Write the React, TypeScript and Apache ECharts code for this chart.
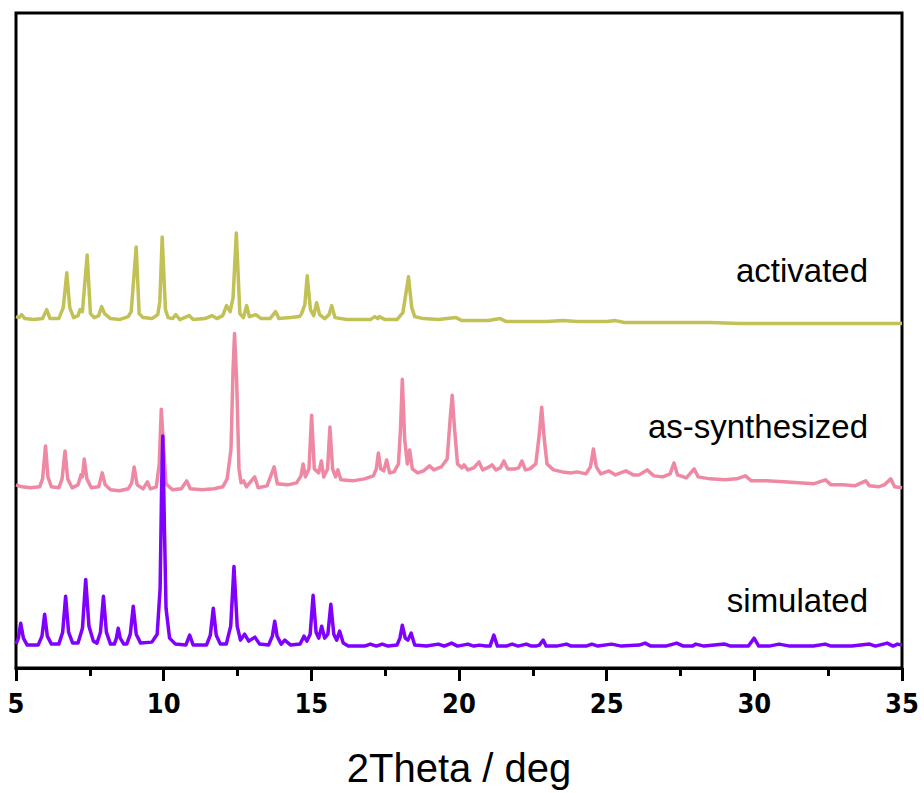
import React, { useEffect, useRef } from "react";
import * as echarts from "echarts";

// Stacked XRD patterns (intensity in arbitrary units, already offset)
const xTicks = [5, 10, 15, 20, 25, 30, 35];

const seriesNames = ["activated", "as-synthesized", "simulated"];
const seriesColors = ["#c2c156", "#ee88a3", "#8000ff"];

const activated: number[][] = [
  [5.0, 353], [5.1, 352], [5.19, 355], [5.3, 351], [5.6, 350], [5.9, 351], [6.04, 360], [6.15, 351],
  [6.45, 351], [6.6, 362], [6.72, 397], [6.82, 362], [6.95, 352], [7.1, 354], [7.17, 360], [7.25, 358],
  [7.41, 415], [7.52, 356], [7.65, 352], [7.8, 354], [7.9, 363], [8.0, 356], [8.2, 351], [8.5, 350],
  [8.8, 353], [8.9, 358], [9.07, 423], [9.17, 356], [9.3, 352], [9.6, 351], [9.8, 355], [9.87, 368],
  [9.95, 433], [10.06, 360], [10.15, 352], [10.3, 351], [10.41, 355], [10.55, 350], [10.86, 354],
  [11.0, 350], [11.4, 351], [11.64, 354], [11.8, 351], [12.0, 354], [12.13, 364], [12.25, 358],
  [12.35, 372], [12.46, 437], [12.58, 356], [12.7, 352], [12.81, 364], [12.9, 353], [13.12, 355],
  [13.3, 351], [13.6, 351], [13.79, 358], [13.9, 351], [14.3, 352], [14.6, 353], [14.67, 356],
  [14.78, 365], [14.86, 394], [14.97, 360], [15.08, 354], [15.18, 367], [15.28, 355], [15.45, 351],
  [15.6, 355], [15.69, 364], [15.8, 352], [16.2, 350], [16.6, 350], [17.0, 350], [17.15, 353],
  [17.25, 351], [17.3, 353], [17.5, 350], [17.9, 350], [18.1, 357], [18.18, 372], [18.29, 393],
  [18.4, 362], [18.5, 353], [18.8, 351], [19.3, 350], [19.9, 352], [20.1, 349], [20.6, 349],
  [21.0, 349], [21.4, 351], [21.6, 348], [22.3, 348], [23.0, 348], [23.5, 349], [24.0, 348],
  [25.0, 348], [25.3, 349], [25.6, 347], [26.5, 347], [27.5, 347], [28.5, 347], [29.5, 346],
  [30.5, 346], [31.5, 346], [32.5, 346], [33.5, 346], [34.5, 346], [35, 346],
];

const asSynthesized: number[][] = [
  [5.0, 184], [5.2, 182], [5.5, 181], [5.8, 182], [5.9, 190], [6.0, 223], [6.08, 192], [6.2, 182],
  [6.45, 181], [6.56, 190], [6.66, 218], [6.75, 190], [6.9, 181], [7.1, 184], [7.2, 194], [7.25, 192],
  [7.31, 210], [7.4, 190], [7.55, 181], [7.8, 182], [7.92, 196], [8.02, 184], [8.2, 179], [8.5, 178],
  [8.8, 180], [8.92, 186], [9.0, 202], [9.1, 184], [9.3, 180], [9.45, 187], [9.55, 180], [9.75, 182],
  [9.85, 205], [9.92, 260], [10.0, 220], [10.08, 185], [10.3, 179], [10.6, 180], [10.78, 188],
  [10.9, 180], [11.3, 179], [11.7, 180], [12.0, 182], [12.15, 190], [12.28, 220], [12.35, 300],
  [12.4, 336], [12.47, 290], [12.55, 200], [12.62, 186], [12.71, 188], [12.8, 182], [13.08, 192],
  [13.2, 181], [13.5, 183], [13.74, 202], [13.85, 185], [14.2, 184], [14.5, 186], [14.65, 193],
  [14.72, 205], [14.8, 192], [14.92, 200], [15.01, 254], [15.1, 200], [15.25, 196], [15.34, 208],
  [15.42, 192], [15.55, 200], [15.63, 242], [15.72, 200], [15.82, 192], [15.9, 199], [16.0, 189],
  [16.4, 188], [16.8, 190], [17.1, 193], [17.2, 200], [17.27, 216], [17.35, 200], [17.45, 198],
  [17.55, 209], [17.65, 196], [17.8, 197], [17.95, 205], [18.02, 240], [18.08, 290], [18.16, 230],
  [18.25, 205], [18.33, 219], [18.42, 200], [18.6, 196], [18.8, 198], [19.0, 203], [19.15, 199],
  [19.4, 202], [19.6, 210], [19.7, 250], [19.77, 274], [19.85, 240], [19.95, 205], [20.1, 201],
  [20.17, 204], [20.3, 199], [20.5, 201], [20.68, 207], [20.8, 199], [20.95, 201], [21.12, 204],
  [21.25, 199], [21.4, 201], [21.52, 208], [21.65, 200], [21.9, 200], [22.02, 201], [22.13, 208],
  [22.25, 199], [22.4, 200], [22.6, 205], [22.72, 235], [22.8, 262], [22.88, 232], [22.98, 205],
  [23.2, 199], [23.5, 197], [23.8, 196], [24.0, 197], [24.3, 195], [24.45, 202], [24.55, 220],
  [24.65, 202], [24.8, 195], [25.08, 198], [25.3, 194], [25.65, 198], [25.9, 194], [26.1, 194],
  [26.37, 199], [26.6, 193], [26.9, 192], [27.15, 195], [27.28, 206], [27.4, 194], [27.7, 191],
  [27.96, 200], [28.1, 192], [28.5, 190], [29.0, 189], [29.4, 190], [29.7, 193], [29.9, 188],
  [30.4, 188], [31.0, 187], [31.5, 186], [32.0, 185], [32.41, 189], [32.6, 184], [33.0, 184],
  [33.4, 183], [33.77, 188], [33.9, 183], [34.2, 182], [34.4, 184], [34.62, 190], [34.75, 182],
  [35, 181],
];

const simulated: number[][] = [
  [5.0, 24], [5.08, 30], [5.16, 45], [5.25, 30], [5.38, 23],
  [5.75, 23], [5.88, 32], [5.97, 54], [6.06, 32], [6.2, 24],
  [6.45, 24], [6.58, 36], [6.68, 72], [6.78, 36], [6.92, 25],
  [7.1, 25], [7.25, 40], [7.36, 89], [7.47, 42], [7.62, 27],
  [7.74, 25], [7.86, 36], [7.96, 72], [8.06, 36], [8.2, 24],
  [8.33, 24], [8.4, 30], [8.46, 40], [8.53, 30], [8.65, 24],
  [8.75, 24], [8.87, 34], [8.97, 62], [9.07, 34], [9.22, 25],
  [9.6, 26], [9.78, 34], [9.88, 80], [9.93, 180], [9.97, 233], [10.02, 150], [10.08, 60], [10.2, 30],
  [10.4, 24], [10.75, 23], [10.88, 33], [11.0, 23],
  [11.45, 23], [11.58, 33], [11.68, 60], [11.78, 33], [11.92, 24],
  [12.12, 24], [12.27, 42], [12.38, 102], [12.49, 42], [12.6, 28], [12.74, 34], [12.88, 27],
  [13.09, 31], [13.25, 24], [13.55, 23], [13.68, 32], [13.76, 47], [13.84, 32], [13.98, 24],
  [14.1, 28], [14.3, 23], [14.62, 24], [14.75, 32], [14.85, 27], [14.96, 34], [15.06, 73],
  [15.16, 36], [15.25, 30], [15.35, 42], [15.45, 30], [15.56, 34], [15.66, 64], [15.76, 34],
  [15.86, 28], [15.96, 37], [16.08, 25], [16.25, 22],
  [16.8, 22], [17.0, 24], [17.2, 22], [17.4, 24], [17.6, 22],
  [17.9, 23], [18.0, 30], [18.08, 43], [18.18, 30], [18.27, 28], [18.38, 35], [18.5, 23], [18.9, 22],
  [19.3, 24], [19.5, 22], [19.75, 25], [19.95, 22], [20.3, 24], [20.5, 22], [20.7, 23], [20.9, 22],
  [21.05, 22], [21.18, 33], [21.3, 22], [21.6, 22], [21.8, 24], [22.0, 22], [22.28, 24], [22.45, 22],
  [22.6, 22], [22.72, 23], [22.85, 28], [22.95, 22], [23.3, 22], [23.64, 24], [23.8, 22],
  [24.3, 22], [24.5, 24], [24.7, 22], [25.17, 24], [25.5, 22], [26.1, 23], [26.3, 25], [26.5, 22],
  [27.0, 22], [27.37, 25], [27.6, 22], [27.9, 22], [28.02, 24], [28.3, 22], [29.0, 24], [29.2, 22],
  [29.8, 22], [29.99, 30], [30.15, 22], [30.5, 22], [30.84, 24], [31.2, 22], [32.0, 22], [32.4, 24],
  [32.6, 22], [33.3, 22], [33.9, 24], [34.1, 22], [34.5, 25], [34.7, 22], [34.85, 24], [35, 23],
];

const seriesData = [activated, asSynthesized, simulated];
// label positions (x in deg, y in intensity units) for the curve names
const labelAnchors = [
  [33.85, 399],
  [33.85, 243],
  [33.85, 68],
];

export default function App() {
  const ref = useRef<HTMLDivElement>(null);
  useEffect(() => {
    if (!ref.current) return;
    const chart = echarts.init(ref.current, undefined, { renderer: "svg" });
    const option: any = {
      animation: false,
      backgroundColor: "#ffffff",
      grid: {
        left: 16,
        right: 22,
        top: 13,
        bottom: 122,
        show: true,
        borderColor: "#000",
        borderWidth: 3,
      },
      xAxis: {
        type: "value",
        min: 5,
        max: 35,
        interval: 5,
        name: "2Theta / deg",
        nameLocation: "middle",
        nameGap: 80,
        nameTextStyle: {
          fontSize: 40,
          color: "#000",
          fontFamily: "'Liberation Sans', Arial, sans-serif",
        },
        axisLine: { show: true, onZero: false, lineStyle: { color: "#000", width: 3 } },
        axisTick: { show: true, length: 13, lineStyle: { color: "#000", width: 3 } },
        minorTick: { show: true, splitNumber: 2, length: 8, lineStyle: { color: "#000", width: 3 } },
        splitLine: { show: false },
        axisLabel: {
          margin: 22,
          fontSize: 27,
          fontWeight: "bold",
          color: "#000",
          fontFamily: "'Liberation Sans Narrow', 'DejaVu Sans Condensed', sans-serif",
          formatter: (v: number) => (xTicks.includes(v) ? String(v) : ""),
        },
      },
      yAxis: {
        type: "value",
        min: 0,
        max: 658,
        show: false,
        splitLine: { show: false },
      },
      series: seriesData.map((d, i) => ({
        name: seriesNames[i],
        type: "line",
        data: d,
        showSymbol: false,
        symbol: "none",
        lineStyle: { color: seriesColors[i], width: 3.5, join: "round" },
        z: 2 + i,
        markPoint: {
          symbol: "circle",
          symbolSize: 0,
          silent: true,
          label: {
            show: true,
            position: "left",
            distance: 0,
            formatter: seriesNames[i],
            fontSize: 33,
            color: "#000",
            fontFamily: "'Liberation Sans', Arial, sans-serif",
            align: "right",
            verticalAlign: "middle",
          },
          data: [{ coord: labelAnchors[i] }],
        },
      })),
    };
    chart.setOption(option);
    return () => chart.dispose();
  }, []);
  return (
    <div
      ref={ref}
      style={{ position: "fixed", left: 0, top: 0, width: 924, height: 793, background: "#fff" }}
    />
  );
}
